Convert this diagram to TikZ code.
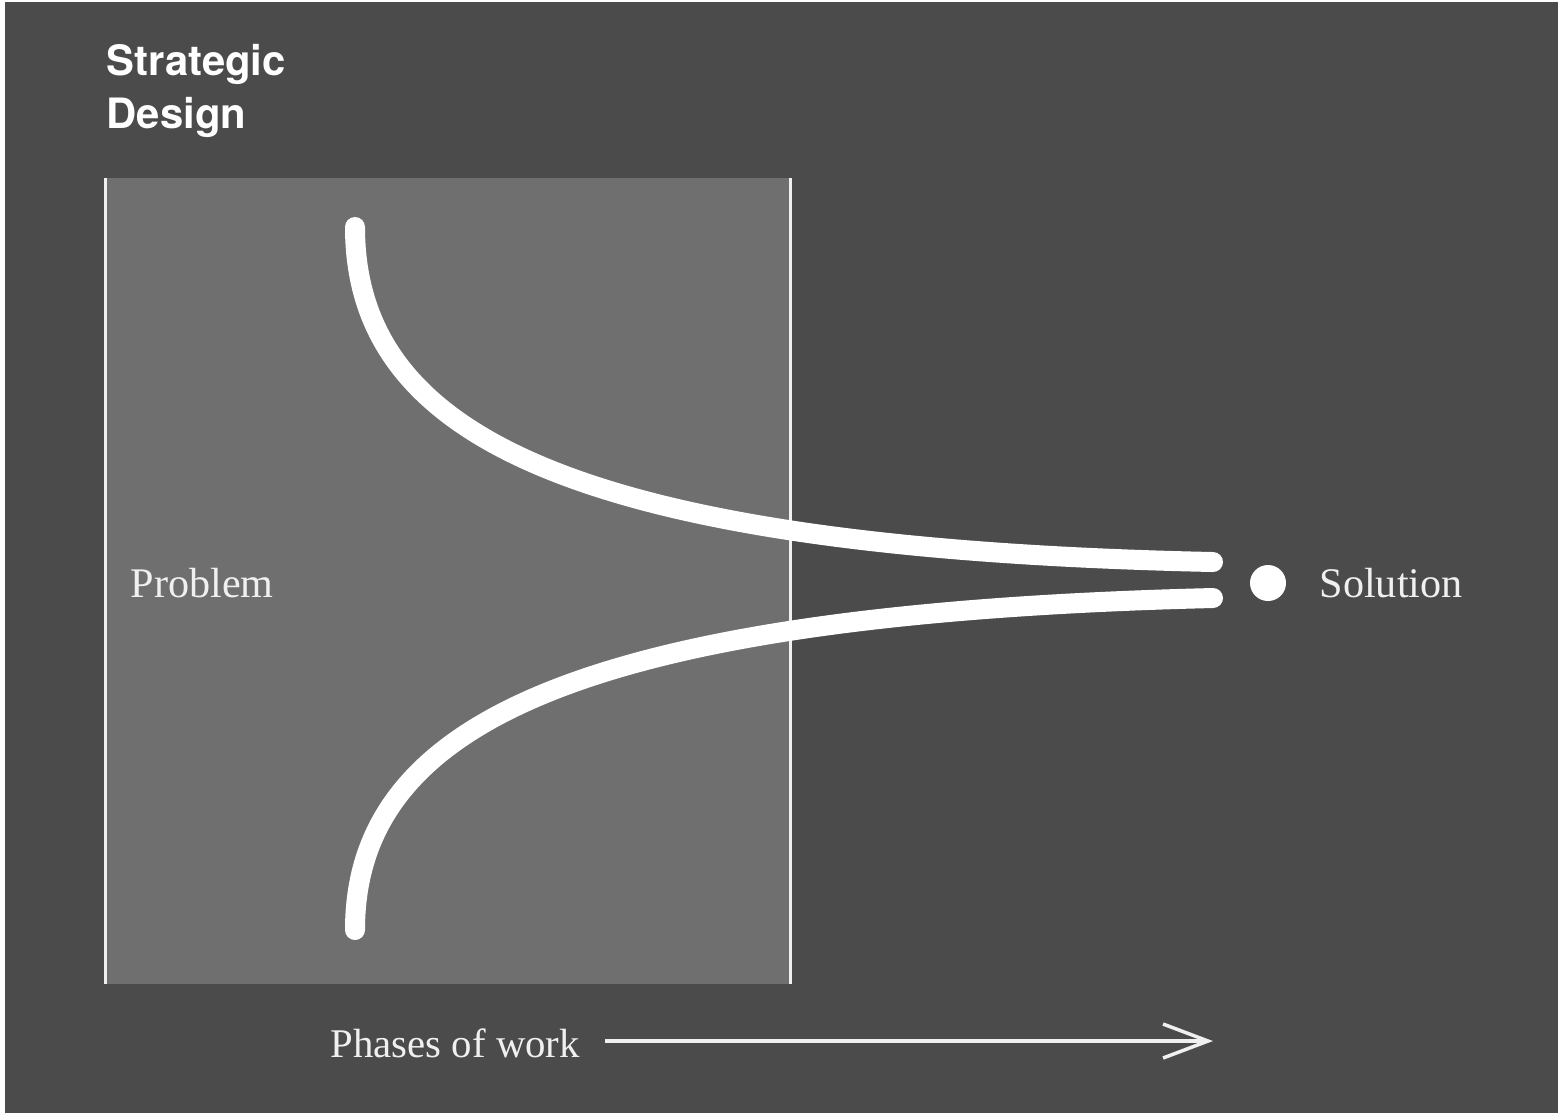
\documentclass[tikz,border=0pt]{standalone}
\usepackage{fontspec}
\setmainfont{Liberation Serif}
\newfontfamily\headfont{TeX Gyre Heros}
\usepackage{tikz}
\usetikzlibrary{arrows.meta, positioning}
\definecolor{bgdark}{RGB}{75,75,75}
\definecolor{panelgray}{RGB}{111,111,111}
\definecolor{offwhite}{RGB}{240,240,240}

\begin{document}
\begin{tikzpicture}[
  titletext/.style={inner sep=0, anchor=base west, text=white, font=\headfont\bfseries\fontsize{11.9}{15}\selectfont},
  labeltext/.style={inner sep=0, anchor=base west, text=offwhite, font=\fontsize{12}{14}\selectfont},
  panelline/.style={draw=offwhite, line width=0.03cm},
  bigcurve/.style={draw=white, line width=0.2cm, line cap=round}
]
\useasboundingbox (0,0) rectangle (15.59,-11.13);
\fill[white] (0,0) rectangle (15.59,-11.13);
\fill[bgdark] (0.05,-0.02) rectangle (15.58,-11.13);
% panel
\coordinate (pnw) at (1.055,-1.78);
\coordinate (psw) at (1.055,-9.84);
\coordinate (pne) at (7.90,-1.78);
\coordinate (pse) at (7.90,-9.84);
\fill[panelgray] (pnw) rectangle (pse);
\draw[panelline] (pnw) -- (psw);
\draw[panelline] (pne) -- (pse);
% titles and labels
\node[titletext] (title1) at (1.06,-0.75) {Strategic};
\node[titletext] (title2) at (1.06,-1.28) {Design};
\node[labeltext] (problem) at (1.30,-5.97) {Problem};
\node[labeltext] (solution) at (13.19,-5.97) {Solution};
\node[labeltext, font=\fontsize{11.6}{14}\selectfont] (phases) at (3.30,-10.57) {Phases of work};
\node[circle, fill=white, minimum size=0.36cm, inner sep=0] (dot) at (12.68,-5.83) {};
% curves
\coordinate (upstart) at (3.55,-2.27);
\coordinate (upend) at (12.13,-5.62);
\coordinate (lowstart) at (3.55,-9.30);
\coordinate (lowend) at (12.13,-5.98);
\draw[bigcurve] (upstart) .. controls (3.55,-4.30) and (5.60,-5.48) .. (upend);
\draw[bigcurve] (lowstart) .. controls (3.55,-7.32) and (5.60,-6.14) .. (lowend);
% arrow
\coordinate (arrowstart) at (6.05,-10.41);
\coordinate (arrowend) at (12.13,-10.41);
\draw[offwhite, line width=0.035cm, -{Straight Barb[length=0.45cm, width=0.34cm]}] (arrowstart) -- (arrowend);
\end{tikzpicture}
\end{document}
